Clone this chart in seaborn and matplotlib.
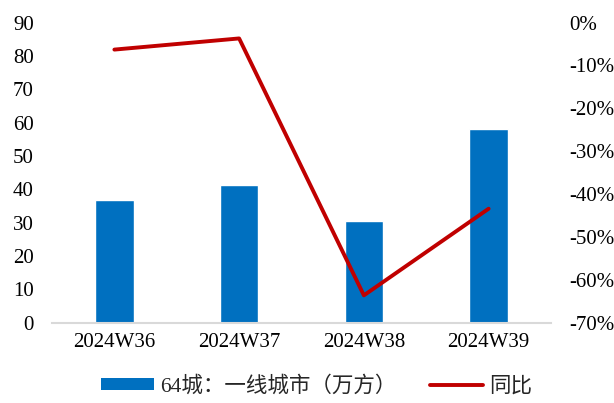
import numpy as np
import pandas as pd
import matplotlib
matplotlib.use("Agg")
import matplotlib.pyplot as plt
import seaborn as sns
from matplotlib.lines import Line2D
from matplotlib.patches import Patch

weeks = ["2024W36", "2024W37", "2024W38", "2024W39"]
volume = [36.7, 41.3, 30.4, 58.2]          # 64城：一线城市（万方）
yoy_pct = [-6.3, -3.7, -63.6, -43.4]       # 同比 (%)
bar_label = "64城：一线城市（万方）"
line_label = "同比"

sns.set_theme(style="white")
plt.rcParams["font.family"] = ["Liberation Serif", "Noto Sans CJK SC", "DejaVu Sans"]

bar_color = "#0070C0"
line_color = "#C00000"

df = pd.DataFrame({"week": weeks, "volume": volume, "yoy": yoy_pct})

fig = plt.figure(figsize=(6.14, 4.03), dpi=100)
ax = fig.add_axes([0.0847, 0.199, 0.8127, 0.745])

sns.barplot(data=df, x="week", y="volume", color=bar_color, width=0.31,
            saturation=1, ax=ax)
ax.set_xlim(-0.5, 3.5)
ax.set_ylim(0, 90)
ax.set_yticks(np.arange(0, 91, 10))
ax.set_xlabel("")
ax.set_ylabel("")

ax2 = ax.twinx()
sns.lineplot(data=df, x="week", y="yoy", color=line_color, linewidth=2.8,
             sort=False, ax=ax2)
ax2.set_ylim(-70, 0)
ax2.set_yticks(np.arange(-70, 1, 10))
ax2.set_yticklabels([f"{v:.0f}%" for v in np.arange(-70, 1, 10)])
ax2.set_ylabel("")

for a in (ax, ax2):
    for s in a.spines.values():
        s.set_visible(False)
    a.grid(False)
ax.spines["bottom"].set_visible(True)
ax.spines["bottom"].set_color("#d9d9d9")
ax.spines["bottom"].set_linewidth(1.5)

ax.tick_params(axis="y", length=0, pad=13, labelsize=15, colors="black")
ax.tick_params(axis="x", length=0, pad=7, labelsize=15, colors="black")
ax2.tick_params(axis="y", length=0, pad=13, labelsize=15, colors="black")

handles = [Patch(facecolor=bar_color, edgecolor="none"),
           Line2D([0], [0], color=line_color, linewidth=2.8)]
fig.legend(handles, [bar_label, line_label], loc="center",
           bbox_to_anchor=(0.516, 0.042), ncol=2, frameon=False,
           fontsize=15.5, handlelength=2.45, handleheight=0.5,
           handletextpad=0.3, columnspacing=1.55)

fig.savefig("out.png", dpi=100)
